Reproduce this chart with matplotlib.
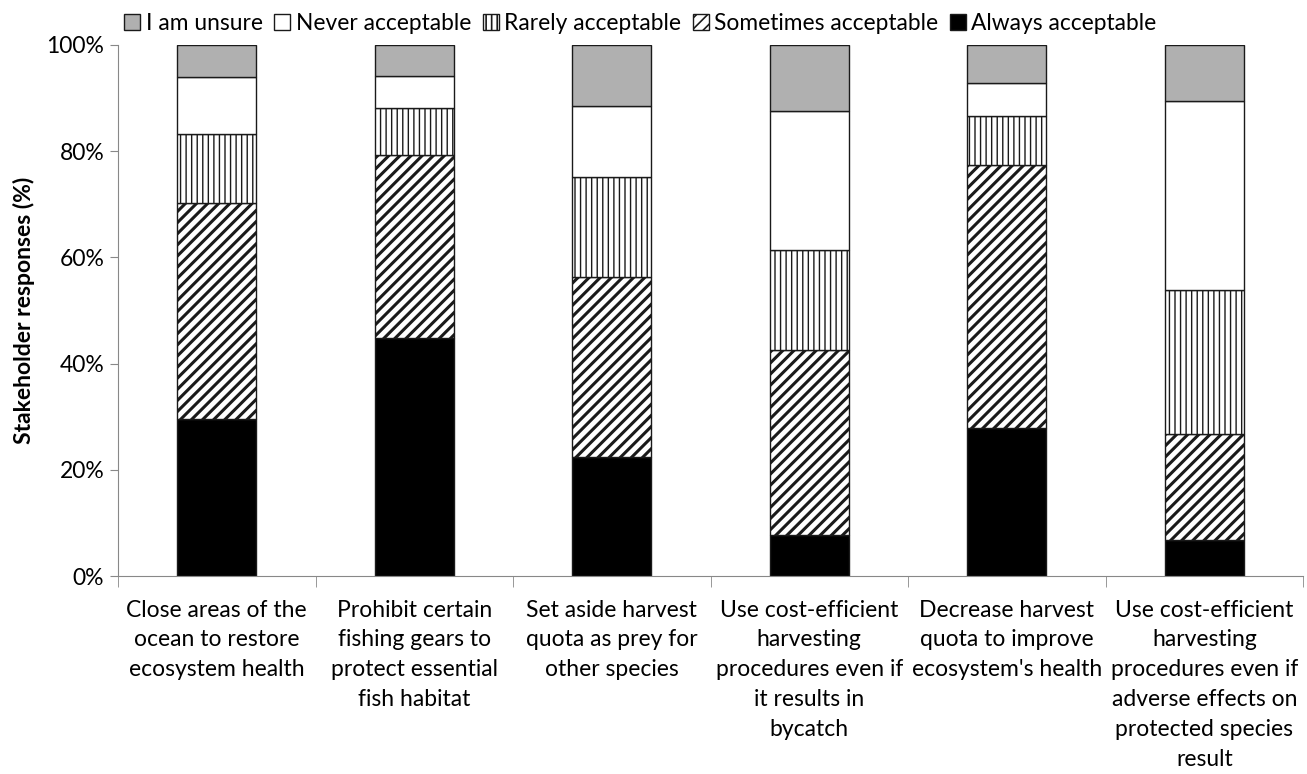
import numpy as np
import matplotlib
matplotlib.use('Agg')
import matplotlib.pyplot as plt

categories = ['Close areas of the\nocean to restore\necosystem health',
              'Prohibit certain\nfishing gears to\nprotect essential\nfish habitat',
              'Set aside harvest\nquota as prey for\nother species',
              'Use cost-efficient\nharvesting\nprocedures even if\nit results in\nbycatch',
              'Decrease harvest\nquota to improve\necosystem\'s health',
              'Use cost-efficient\nharvesting\nprocedures even if\nadverse effects on\nprotected species\nresult']

# percentages per response (bottom to top)
always = [29.6, 44.8, 22.5, 7.7, 27.9, 6.7]
sometimes = [40.7, 34.5, 33.9, 34.8, 49.5, 20.1]
rarely = [13.0, 8.9, 18.8, 18.9, 9.3, 27.0]
never = [10.6, 6.0, 13.4, 26.1, 6.2, 35.7]
unsure = [6.1, 5.8, 11.4, 12.5, 7.1, 10.5]

series = [('Always acceptable', always, 'black', '', 1.0),
          ('Sometimes acceptable', sometimes, 'white', '///', 2.2),
          ('Rarely acceptable', rarely, 'white', '|||', 1.0),
          ('Never acceptable', never, 'white', '', 1.0),
          ('I am unsure', unsure, '#b0b0b0', '', 1.0)]

plt.rcParams['font.family'] = ['Lato', 'DejaVu Sans']
plt.rcParams['hatch.linewidth'] = 1.2

fig = plt.figure(figsize=(13.07, 7.74), dpi=100)
ax = fig.add_axes([0.0903, 0.2558, 0.9067, 0.6861])

x = np.arange(len(categories))
bottom = np.zeros(len(categories))
handles = []
for name, vals, col, hatch, hlw in series:
    b = ax.bar(x, vals, 0.4, bottom=bottom, color=col, edgecolor='#1a1a1a',
               linewidth=1.0, hatch=hatch, label=name)
    for p in b.patches:
        if hasattr(p, 'set_hatch_linewidth'):
            p.set_hatch_linewidth(hlw)
    handles.append(b)
    bottom += np.array(vals)

ax.set_xlim(-0.5, len(categories) - 0.5)
ax.set_ylim(0, 100)
ax.set_yticks(np.arange(0, 101, 20))
ax.set_yticklabels([f'{v}%' for v in range(0, 101, 20)], fontsize=16.5)
ax.set_xticks(x)
ax.set_xticklabels(categories, fontsize=16.5, linespacing=1.52, va='top')
ax.tick_params(axis='x', length=0, pad=17)
ax.set_xticks(np.arange(-0.5, len(categories)), minor=True)
ax.tick_params(axis='x', which='minor', length=8, color='#888888', direction='out')
ax.tick_params(axis='y', length=6, color='#888888', direction='out', pad=4)
ax.set_ylabel('Stakeholder responses (%)', fontsize=16.5, fontweight='bold', labelpad=8)

for s in ['top', 'right']:
    ax.spines[s].set_visible(False)
for s in ['left', 'bottom']:
    ax.spines[s].set_color('#888888')

leg = fig.legend(handles[::-1], [h.get_label() for h in handles[::-1]], loc='upper center',
                 bbox_to_anchor=(0.49, 1.01), ncol=5, frameon=False, fontsize=16.4,
                 handlelength=0.7, handleheight=0.7, handletextpad=0.25, columnspacing=0.5)

fig.savefig('out.png', dpi=100)
